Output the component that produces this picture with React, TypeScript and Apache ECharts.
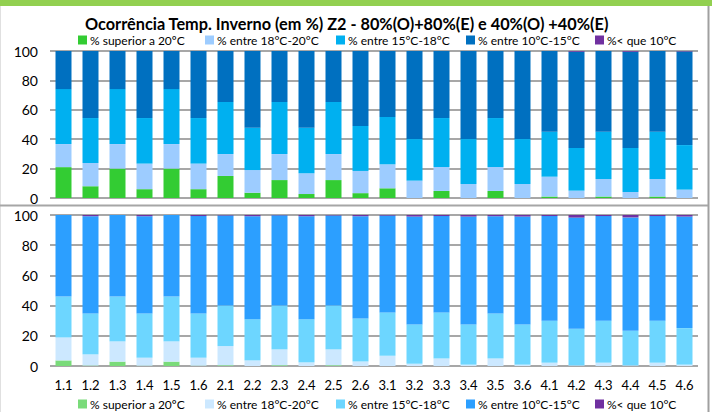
import React, { useEffect, useRef } from "react";
import * as echarts from "echarts";

const categories = ["1.1","1.2","1.3","1.4","1.5","1.6","2.1","2.2","2.3","2.4","2.5","2.6","3.1","3.2","3.3","3.4","3.5","3.6","4.1","4.2","4.3","4.4","4.5","4.6"];
const legendNames = ["% superior a 20ºC", "% entre 18°C-20°C", "% entre 15°C-18°C", "% entre 10°C-15°C", "%< que 10°C"];
const yTicks = [0, 20, 40, 60, 80, 100];
const titleText = "Ocorrência Temp. Inverno (em %) Z2 - 80%(O)+80%(E) e 40%(O) +40%(E)";

// top panel (80%)
const topAbove20 = [21, 8, 20, 6, 20, 6, 15, 3.6, 12.2, 2.7, 12.2, 3.3, 6.6, 0, 4.8, 0, 4.8, 0, 1, 0, 1, 0, 1, 0];
const top18to20 = [15.7, 15.8, 16.7, 17.4, 16.7, 17.4, 14.9, 15.4, 17.7, 14.1, 17.7, 15.1, 16.3, 11.8, 16.3, 9.5, 16.3, 9.5, 13.5, 5, 11.9, 4.1, 11.9, 5.7];
const top15to18 = [37.4, 30.6, 37.4, 31, 37.4, 31, 35.4, 28.8, 35.4, 31, 35.4, 30.6, 32.2, 28.3, 33.3, 30.6, 33.3, 30.6, 30.6, 29, 32.2, 29.9, 32.2, 30.3];
const top10to15 = [25.9, 45.6, 25.9, 45.6, 25.9, 45.6, 34.7, 52.2, 34.7, 52.2, 34.7, 51, 44.9, 59.9, 45.6, 59.9, 45.6, 59.9, 54.9, 65.5, 54.9, 65.5, 54.9, 63.7];
const topBelow10 = [0, 0, 0, 0, 0, 0, 0, 0, 0, 0, 0, 0, 0, 0, 0, 0, 0, 0, 0, 0.5, 0, 0.5, 0, 0.3];

// bottom panel (40%)
const botAbove20 = [3.7, 0.3, 2.9, 0.2, 2.9, 0.2, 0.5, 0, 0.5, 0, 0.5, 0, 0, 0, 0, 0, 0, 0, 0, 0, 0, 0, 0, 0];
const bot18to20 = [15.2, 7.4, 13.4, 5.3, 13.4, 5.3, 12.7, 3.7, 10.5, 2.4, 10.5, 3, 6.8, 1.5, 5, 0.9, 5, 0.9, 2.2, 0.4, 2.2, 0.4, 2.2, 0.9];
const bot15to18 = [27.1, 27.1, 29.7, 29.3, 29.7, 29.3, 26.9, 27.3, 29.1, 28.6, 29.1, 28.5, 28.7, 26, 30.5, 26.6, 29.8, 26.6, 27.8, 24.3, 27.8, 22.9, 27.8, 24.2];
const bot10to15 = [54, 64.4, 54, 64.4, 54, 64.5, 59.6, 68.2, 59.7, 68.2, 59.6, 67.7, 64.1, 71.5, 63.8, 71.5, 64.4, 71.5, 69.3, 73.6, 69.3, 75.1, 69.3, 73.9];
const botBelow10 = [0, 0.8, 0, 0.8, 0, 0.7, 0.3, 0.8, 0.2, 0.8, 0.3, 0.8, 0.4, 1, 0.7, 1, 0.8, 1, 0.7, 1.7, 0.7, 1.6, 0.7, 1];

const topColors = ["#33CC33", "#9DCCFF", "#00B0F0", "#0070C0", "#7030A0"];
const botColors = ["#7ADB7A", "#CCE8FF", "#6DD6FF", "#2C9FFF", "#7030A0"];

const FONT = "Lato";
const legendLefts = [78, 205, 336, 466, 595];

export default function App() {
  const ref = useRef<HTMLDivElement>(null);
  useEffect(() => {
    const chart = echarts.init(ref.current!, undefined, { renderer: "svg" });
    const topData = [topAbove20, top18to20, top15to18, top10to15, topBelow10];
    const botData = [botAbove20, bot18to20, bot15to18, bot10to15, botBelow10];
    const topIds = legendNames.map((_, i) => "t" + i);
    const botIds = legendNames.map((_, i) => "b" + i);
    const series: any[] = [];
    topData.forEach((d, i) => {
      series.push({
        name: topIds[i], type: "bar", stack: "top", xAxisIndex: 0, yAxisIndex: 0,
        data: d, barWidth: 16, itemStyle: { color: topColors[i] },
      });
    });
    botData.forEach((d, i) => {
      series.push({
        name: botIds[i], type: "bar", stack: "bot", xAxisIndex: 1, yAxisIndex: 1,
        data: d, barWidth: 16, itemStyle: { color: botColors[i] },
      });
    });
    const fmt = (n: string) => legendNames[parseInt(n.slice(1), 10)];
    const mkLegend = (id: string, i: number, top: number) => ({
      data: [id], left: legendLefts[i], top, padding: 0, itemWidth: 9, itemHeight: 9,
      icon: "rect", formatter: fmt, selectedMode: false,
      textStyle: { fontFamily: FONT, fontSize: 12, color: "#000", padding: [0, 0, 0, -2] },
    });
    const legends = [
      ...topIds.map((id, i) => mkLegend(id, i, 34)),
      ...botIds.map((id, i) => mkLegend(id, i, 398)),
    ];
    const yAxisCommon = {
      type: "value", min: 0, max: 100, interval: 20,
      axisLine: { show: false }, axisTick: { show: false },
      splitLine: { lineStyle: { color: "#8a8a8a", width: 1.5 } },
      axisLabel: { fontFamily: FONT, fontSize: 14, color: "#000", margin: 12,
        formatter: (v: number) => (yTicks.includes(v) ? String(v) : "") },
    };
    chart.setOption({
      animation: false,
      backgroundColor: "#fff",
      title: {
        text: titleText, left: 80, top: 10,
        textStyle: { fontFamily: FONT, fontSize: 16.3, fontWeight: "bold", color: "#000" },
      },
      legend: legends,
      grid: [
        { left: 50, right: 14, top: 51, height: 147 },
        { left: 50, right: 14, top: 215, height: 151 },
      ],
      xAxis: [
        { type: "category", gridIndex: 0, data: categories, axisLine: { show: false }, axisTick: { show: false }, axisLabel: { show: false } },
        { type: "category", gridIndex: 1, data: categories, axisLine: { show: false }, axisTick: { show: false },
          axisLabel: { fontFamily: FONT, fontSize: 13, color: "#000", margin: 12 } },
      ],
      yAxis: [
        { ...yAxisCommon, gridIndex: 0 },
        { ...yAxisCommon, gridIndex: 1 },
      ],
      graphic: [
        { type: "rect", shape: { x: 0, y: 0, width: 712, height: 6 }, style: { fill: "#92D050" } },
        { type: "line", shape: { x1: 708.5, y1: 6, x2: 708.5, y2: 412 }, style: { stroke: "#a0a0a0", lineWidth: 2 } },
        { type: "line", shape: { x1: 0.5, y1: 6, x2: 0.5, y2: 412 }, style: { stroke: "#e0e0e0", lineWidth: 1 } },
        { type: "line", shape: { x1: 0, y1: 205.5, x2: 708, y2: 205.5 }, style: { stroke: "#a6a6a6", lineWidth: 2 } },
      ],
      series,
    });
    return () => chart.dispose();
  }, []);
  return (
    <div
      ref={ref}
      style={{ position: "fixed", left: 0, top: 0, width: 712, height: 412 }}
    />
  );
}
